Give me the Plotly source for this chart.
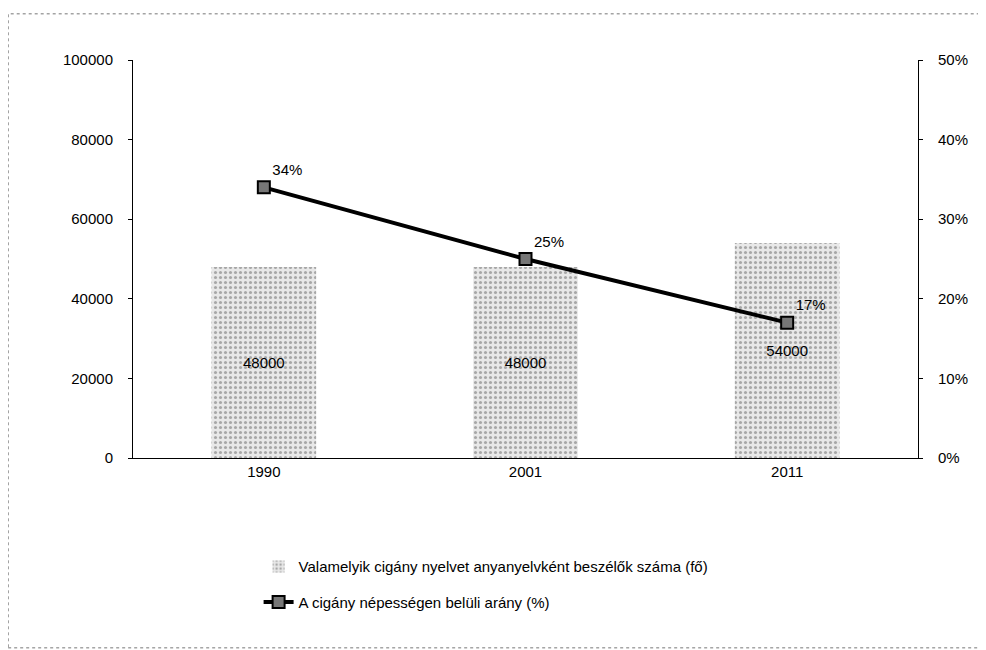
import plotly.graph_objects as go

# Dados
anos = ['1990', '2001', '2011']
beszelok = [48000, 48000, 54000]
arany = [0.34, 0.25, 0.17]

nev_oszlop = 'Valamelyik cigány nyelvet anyanyelvként beszélők száma (fő)'
nev_vonal = 'A cigány népességen belüli arány (%)'

fig = go.Figure()

# Oszlopok
fig.add_trace(go.Bar(
    x=anos,
    y=beszelok,
    name=nev_oszlop,
    legendgroup='a',
    text=[str(v) for v in beszelok],
    textposition='inside',
    insidetextanchor='middle',
    textfont=dict(color='black', size=15),
    marker=dict(
        color='#e8e8e8',
        line=dict(width=0),
        pattern=dict(shape='.', fgcolor='#666666', size=5, solidity=0.3),
    ),
))

# Vonal (jobb tengely)
fig.add_trace(go.Scatter(
    x=anos,
    y=arany,
    name=nev_vonal,
    legendgroup='b',
    yaxis='y2',
    mode='lines+markers+text',
    text=[f'{round(v * 100)}%' for v in arany],
    textposition='top right',
    textfont=dict(color='black', size=15),
    line=dict(color='black', width=4),
    marker=dict(symbol='square', size=12, color='#777777',
                line=dict(color='black', width=2)),
))

# o navegador coloca 8px de margem no body
fig.update_layout(
    width=986,
    height=650,
    margin=dict(l=125, r=76, t=52, b=200),
    paper_bgcolor='white',
    plot_bgcolor='white',
    font=dict(family='Liberation Sans, Arial, sans-serif', size=15, color='black'),
    bargap=0.6,
    showlegend=True,
    legend=dict(
        orientation='v',
        traceorder='grouped',
        x=0.16,
        xanchor='left',
        y=-0.232,
        yanchor='top',
        tracegroupgap=13,
        font=dict(size=15),
    ),
    xaxis=dict(
        type='category',
        showline=True,
        linecolor='black',
        linewidth=1,
        ticks='',
        showgrid=False,
    ),
    yaxis=dict(
        range=[0, 100000],
        dtick=20000,
        tickformat='d',
        showline=True,
        linecolor='black',
        linewidth=1,
        ticks='outside',
        ticklen=4,
        tickcolor='black',
        ticklabelstandoff=12,
        showgrid=False,
        zeroline=False,
    ),
    yaxis2=dict(
        overlaying='y',
        side='right',
        range=[0, 0.5],
        dtick=0.1,
        tickformat='.0%',
        showline=True,
        linecolor='black',
        linewidth=1,
        ticks='outside',
        ticklen=4,
        tickcolor='black',
        ticklabelstandoff=12,
        showgrid=False,
        zeroline=False,
    ),
    shapes=[dict(
        type='rect',
        xref='paper', yref='paper',
        x0=-0.159, x1=1.084, y0=-0.477, y1=1.116,
        line=dict(color='#777777', width=1, dash='dot'),
    )],
)

fig.write_html('out.html')
